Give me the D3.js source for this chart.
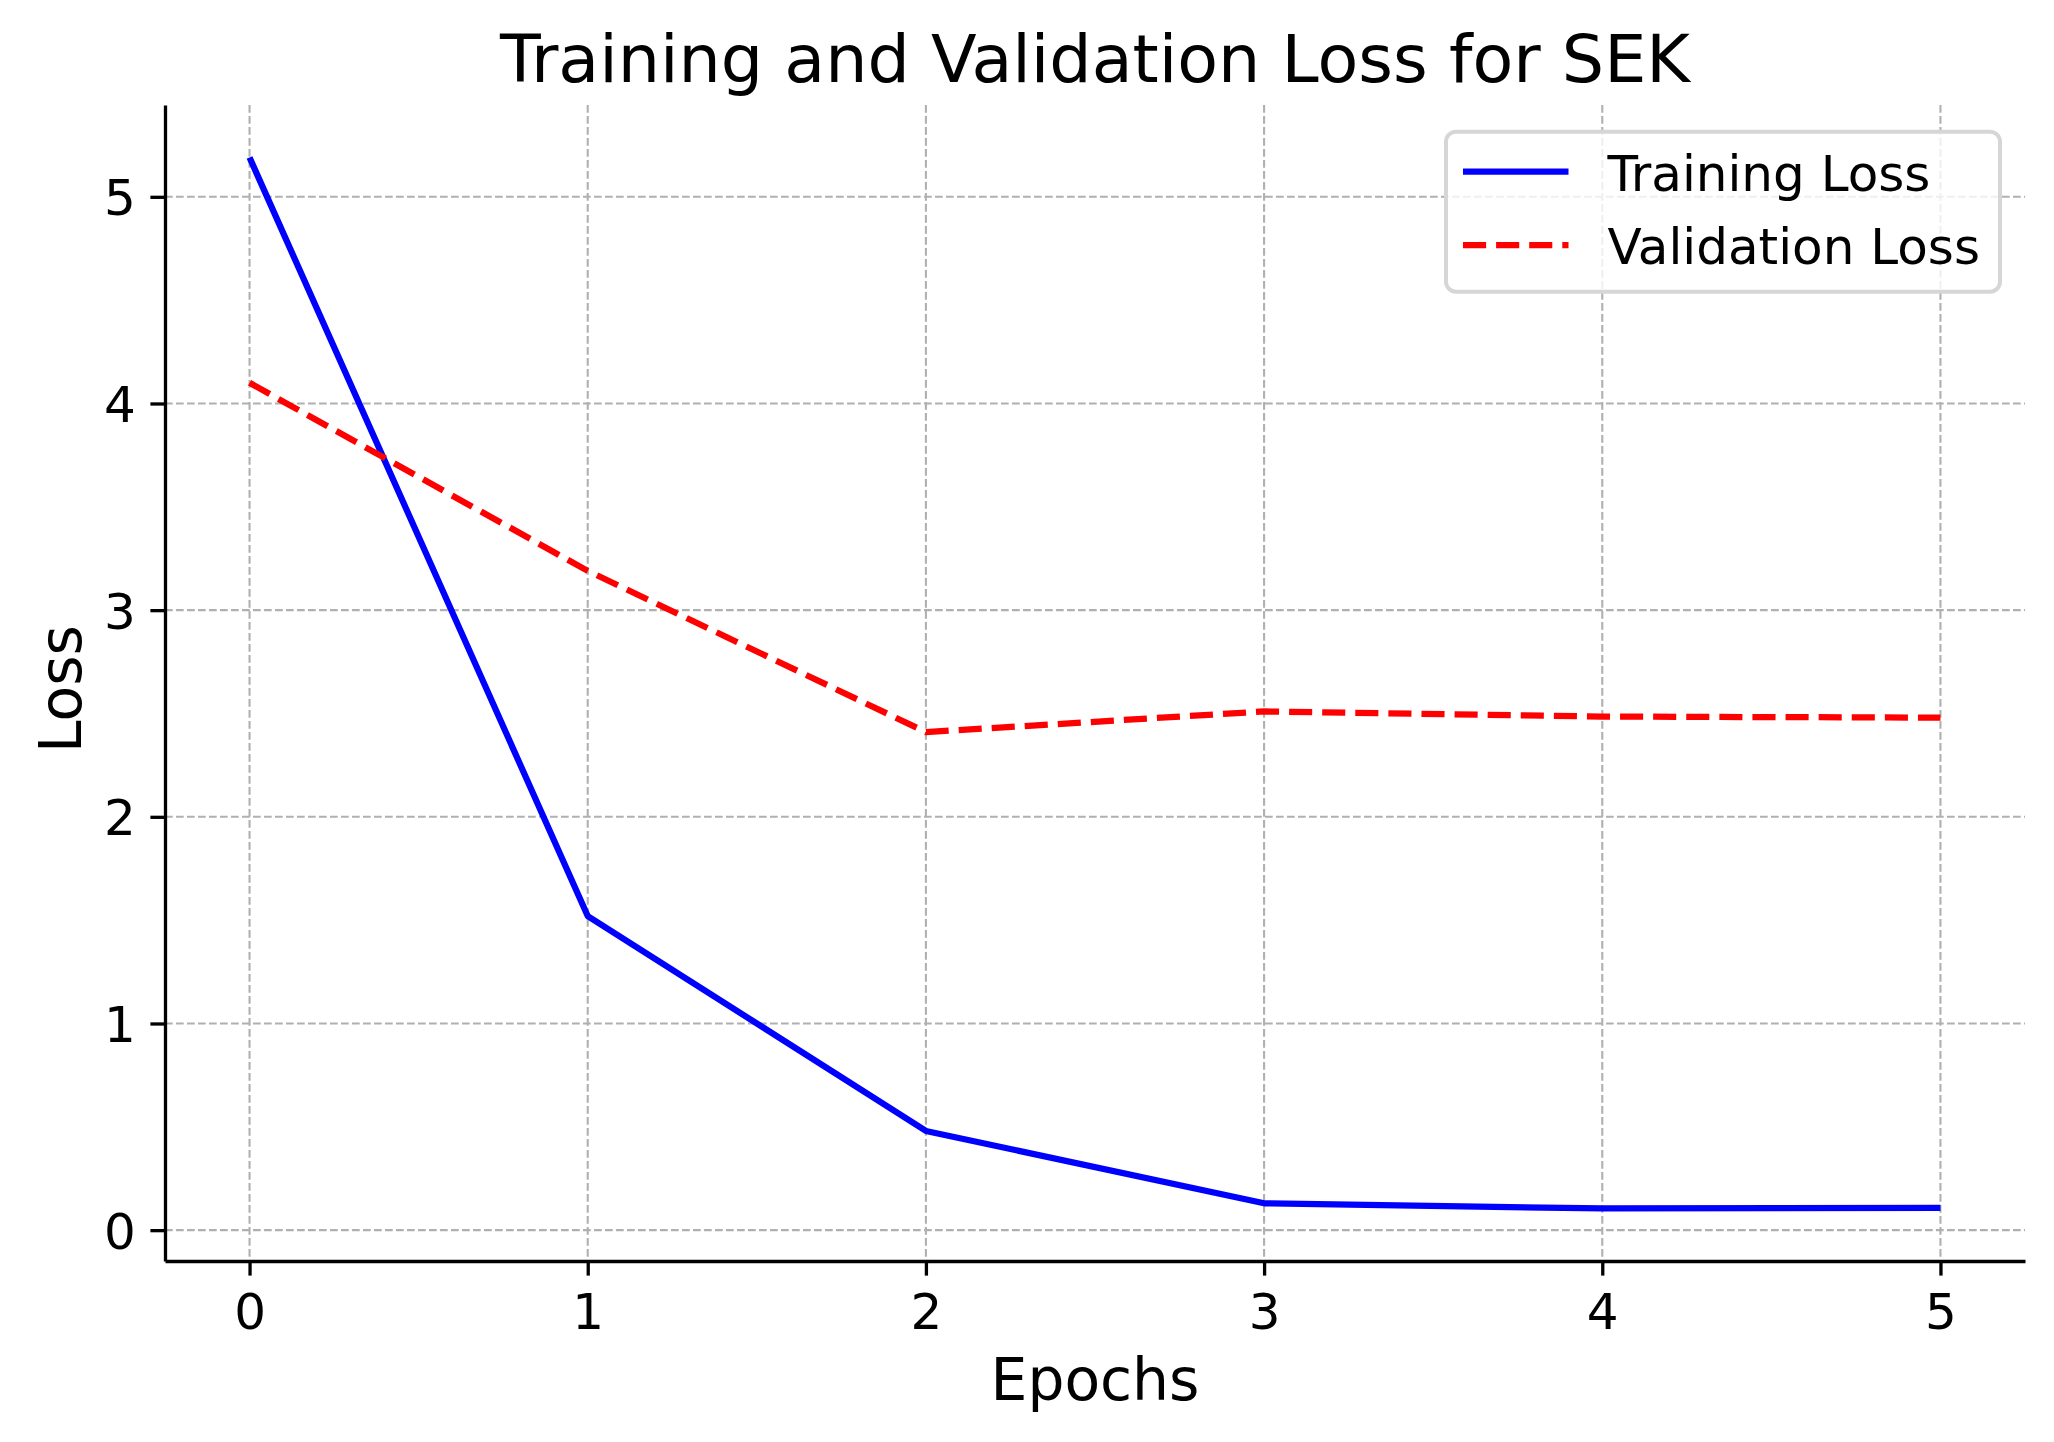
<!DOCTYPE html>
<html>
<head>
<meta charset="utf-8">
<script src='https://cdn.jsdelivr.net/npm/d3@7'></script>
<style>
  html, body { margin: 0; padding: 0; background: #ffffff; }
  svg text { font-family: "DejaVu Sans", sans-serif; fill: #000; }
</style>
</head>
<body>
<svg id="chart" width="2054" height="1442"></svg>
<script>

// values
const epochs = [0, 1, 2, 3, 4, 5];
const trainingLoss = [5.19, 1.52, 0.48, 0.13, 0.105, 0.108];
const validationLoss = [4.10, 3.19, 2.41, 2.51, 2.485, 2.48];
const xTicks = [0, 1, 2, 3, 4, 5];
const yTicks = [0, 1, 2, 3, 4, 5];
const seriesNames = ["Training Loss", "Validation Loss"];

const svgWidth = 2054;
const svgHeight = 1442;
const margin = { top: 105, right: 29, bottom: 181, left: 165 };
const plotRight = svgWidth - margin.right;
const plotBottom = svgHeight - margin.bottom;

const svg = d3.select('#chart');

// matplotlib style 5% padding around the data
const xPad = (d3.max(epochs) - d3.min(epochs)) * 0.05;
const allY = trainingLoss.concat(validationLoss);
const yPad = (d3.max(allY) - d3.min(allY)) * 0.05;

const xScale = d3.scaleLinear()
    .domain([d3.min(epochs) - xPad, d3.max(epochs) + xPad])
    .range([margin.left, plotRight]);

const yScale = d3.scaleLinear()
    .domain([d3.min(allY) - yPad, d3.max(allY) + yPad])
    .range([plotBottom, margin.top]);

// grid
const grid = svg.append("g");
grid.selectAll(".vgrid")
    .data(xTicks)
    .enter()
    .append("line")
    .attr("x1", d => xScale(d))
    .attr("x2", d => xScale(d))
    .attr("y1", margin.top)
    .attr("y2", plotBottom)
    .attr("stroke", "#b0b0b0")
    .attr("stroke-width", 2.1)
    .attr("stroke-dasharray", "7.7,3.3");
grid.selectAll(".hgrid")
    .data(yTicks)
    .enter()
    .append("line")
    .attr("x1", margin.left)
    .attr("x2", plotRight)
    .attr("y1", d => yScale(d))
    .attr("y2", d => yScale(d))
    .attr("stroke", "#b0b0b0")
    .attr("stroke-width", 2.1)
    .attr("stroke-dasharray", "7.7,3.3");

// lines
const line = d3.line()
    .x((d, i) => xScale(epochs[i]))
    .y(d => yScale(d));

svg.append("path")
    .datum(trainingLoss)
    .attr("d", line)
    .attr("fill", "none")
    .attr("stroke", "#0000ff")
    .attr("stroke-width", 6.25)
    .attr("stroke-linejoin", "round");

svg.append("path")
    .datum(validationLoss)
    .attr("d", line)
    .attr("fill", "none")
    .attr("stroke", "#ff0000")
    .attr("stroke-width", 6.25)
    .attr("stroke-dasharray", "23.1,10")
    .attr("stroke-linejoin", "round");

// axes
const xAxis = d3.axisBottom(xScale)
    .tickValues(xTicks)
    .tickSize(14.6)
    .tickSizeOuter(0)
    .tickPadding(14.6)
    .tickFormat(d3.format("d"));

const yAxis = d3.axisLeft(yScale)
    .tickValues(yTicks)
    .tickSize(14.6)
    .tickSizeOuter(0)
    .tickPadding(14.6)
    .tickFormat(d3.format("d"));

const gx = svg.append("g")
    .attr("transform", `translate(0, ${plotBottom})`)
    .call(xAxis);
gx.selectAll("line, path").attr("stroke", "#000").attr("stroke-width", 3.3);
gx.selectAll("text")
    .attr("font-size", 50)
    .attr("font-family", "DejaVu Sans")
    .attr("dy", "0.78em");

const gy = svg.append("g")
    .attr("transform", `translate(${margin.left}, 0)`)
    .call(yAxis);
gy.selectAll("line, path").attr("stroke", "#000").attr("stroke-width", 3.3);
gy.selectAll("text")
    .attr("font-size", 50)
    .attr("font-family", "DejaVu Sans")
    .attr("dy", "0.36em");

// titles
svg.append("text")
    .attr("x", (margin.left + plotRight) / 2)
    .attr("y", 82)
    .attr("text-anchor", "middle")
    .attr("font-size", 66.7)
    .text("Training and Validation Loss for SEK");

svg.append("text")
    .attr("x", (margin.left + plotRight) / 2)
    .attr("y", 1400)
    .attr("text-anchor", "middle")
    .attr("font-size", 58.3)
    .text("Epochs");

svg.append("text")
    .attr("transform", `translate(81, ${(margin.top + plotBottom) / 2 + 6}) rotate(-90)`)
    .attr("text-anchor", "middle")
    .attr("font-size", 58.3)
    .text("Loss");

// legend
const legend = svg.append("g").attr("transform", "translate(1446, 131.7)");
legend.append("rect")
    .attr("width", 554)
    .attr("height", 160)
    .attr("rx", 10)
    .attr("ry", 10)
    .attr("fill", "rgba(255,255,255,0.8)")
    .attr("stroke", "#d6d6d6")
    .attr("stroke-width", 4);

const rows = legend.selectAll(".row")
    .data(seriesNames)
    .enter()
    .append("g")
    .attr("transform", (d, i) => `translate(0, ${40 + i * 73.3})`);

rows.append("line")
    .attr("x1", 17)
    .attr("x2", 122.5)
    .attr("y1", 0)
    .attr("y2", 0)
    .attr("stroke", (d, i) => ["#0000ff", "#ff0000"][i])
    .attr("stroke-width", 6.25)
    .attr("stroke-dasharray", (d, i) => i === 1 ? "23.1,10" : null);

rows.append("text")
    .attr("x", 161.5)
    .attr("y", 19.3)
    .attr("font-size", 50)
    .text(d => d);

</script>
</body>
</html>
